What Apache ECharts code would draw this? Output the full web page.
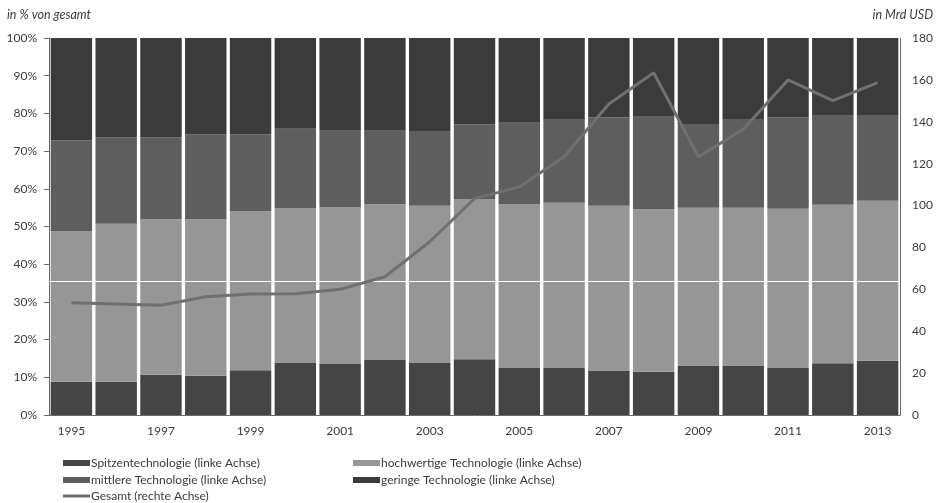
<!DOCTYPE html>
<html>
<head>
<meta charset="utf-8">
<script src="https://cdn.jsdelivr.net/npm/echarts@6/dist/echarts.min.js"></script>
<style>
  html, body { margin: 0; padding: 0; background: #fff; }
  #chart { width: 940px; height: 503px; }
</style>
</head>
<body>
<div id="chart"></div>
<script>
// Jahre
const years = ['1995','1996','1997','1998','1999','2000','2001','2002','2003','2004',
               '2005','2006','2007','2008','2009','2010','2011','2012','2013'];

// Anteile in % von gesamt (linke Achse)
const spitzen    = [8.8, 8.8, 10.7, 10.4, 11.9, 13.8, 13.5, 14.6, 13.8, 14.8, 12.5, 12.5, 11.8, 11.5, 13.1, 13.1, 12.5, 13.7, 14.4];
const hochwertig = [40.0, 41.9, 41.2, 41.5, 42.2, 41.1, 41.7, 41.3, 41.7, 42.5, 43.5, 43.8, 43.7, 43.1, 41.9, 41.9, 42.2, 42.1, 42.4];
const mittlere   = [24.1, 23.0, 21.8, 22.6, 20.4, 21.0, 20.4, 19.7, 19.8, 19.8, 21.5, 22.0, 23.4, 24.5, 22.2, 23.5, 24.3, 23.8, 22.8];
const geringe    = [27.1, 26.3, 26.3, 25.5, 25.5, 24.1, 24.4, 24.4, 24.7, 22.9, 22.5, 21.7, 21.1, 20.9, 22.8, 21.5, 21.0, 20.4, 20.4];

// Gesamt in Mrd USD (rechte Achse)
const gesamt = [53.6, 53.0, 52.4, 56.5, 57.8, 57.9, 60.0, 66.0, 82.7, 103.3,
                108.9, 123.3, 148.5, 163.4, 123.3, 136.4, 160.0, 150.1, 158.7];

// Hilfslinie (linke Achse, in %)
const hilfslinie = [35.5];

const names = {
  spitzen: 'Spitzentechnologie (linke Achse)',
  hochwertig: 'hochwertige Technologie (linke Achse)',
  mittlere: 'mittlere Technologie (linke Achse)',
  geringe: 'geringe Technologie (linke Achse)',
  gesamt: 'Gesamt (rechte Achse)'
};

const FONT = 'Lato, "Open Sans", sans-serif';
const TXT = '#3a3a3a';
const LINE_COLOR = '#707070';

const chart = echarts.init(document.getElementById('chart'), null, { renderer: 'canvas' });

function barSeries(name, data, color, extra) {
  return Object.assign({
    name: name,
    type: 'bar',
    stack: 'anteil',
    yAxisIndex: 0,
    data: data,
    barCategoryGap: '7.5%',
    itemStyle: { color: color },
    emphasis: { disabled: true },
    animation: false
  }, extra || {});
}

function legendItem(name, left, top, iconHeight) {
  return {
    data: [name],
    left: left,
    top: top,
    orient: 'horizontal',
    icon: 'rect',
    itemWidth: 27,
    itemHeight: iconHeight,
    padding: 0,
    selectedMode: false,
    textStyle: { fontFamily: FONT, fontSize: 12, color: TXT, padding: [0, 0, 0, -4] }
  };
}

chart.setOption({
  backgroundColor: '#ffffff',
  animation: false,
  title: [
    { text: 'in % von gesamt', left: 7, top: 8, padding: 0,
      textStyle: { fontFamily: FONT, fontSize: 12.5, fontStyle: 'italic', fontWeight: 'normal', color: TXT } },
    { text: 'in Mrd USD', right: 7, top: 8, padding: 0,
      textStyle: { fontFamily: FONT, fontSize: 12.5, fontStyle: 'italic', fontWeight: 'normal', color: TXT } }
  ],
  legend: [
    legendItem(names.spitzen, 63, 457, 6),
    legendItem(names.hochwertig, 353, 457, 6),
    legendItem(names.mittlere, 63, 474, 6),
    legendItem(names.geringe, 353, 474, 6),
    legendItem(names.gesamt, 63, 490, 3)
  ],
  grid: { left: 49, right: 40, top: 38, bottom: 88, containLabel: false },
  xAxis: {
    type: 'category',
    data: years,
    axisLine: { lineStyle: { color: '#6a6a6a', width: 1 } },
    axisTick: { show: false },
    axisLabel: { interval: 1, fontFamily: FONT, fontSize: 12, color: TXT, margin: 10 }
  },
  yAxis: [
    {
      type: 'value', min: 0, max: 100, interval: 10,
      axisLine: { show: true, lineStyle: { color: '#6a6a6a' } },
      axisTick: { show: true, length: 5, inside: false, lineStyle: { color: '#6a6a6a' } },
      axisLabel: { formatter: '{value}%', fontFamily: FONT, fontSize: 12, color: TXT, margin: 12 },
      splitLine: { show: false }
    },
    {
      type: 'value', min: 0, max: 180, interval: 20,
      axisLine: { show: true, lineStyle: { color: '#6a6a6a' } },
      axisTick: { show: false },
      axisLabel: { fontFamily: FONT, fontSize: 12, color: TXT, margin: 12 },
      splitLine: { show: false }
    }
  ],
  series: [
    barSeries(names.spitzen, spitzen, '#454545'),
    barSeries(names.hochwertig, hochwertig, '#969696', {
      markLine: {
        silent: true,
        symbol: 'none',
        label: { show: false },
        lineStyle: { color: '#ffffff', width: 1, type: 'solid' },
        data: hilfslinie.map(v => ({ yAxis: v }))
      }
    }),
    barSeries(names.mittlere, mittlere, '#5e5e5e'),
    barSeries(names.geringe, geringe, '#3b3b3b'),
    {
      name: names.gesamt,
      type: 'line',
      yAxisIndex: 1,
      data: gesamt,
      symbol: 'none',
      smooth: false,
      lineStyle: { color: LINE_COLOR, width: 3 },
      itemStyle: { color: LINE_COLOR },
      z: 5,
      animation: false
    }
  ]
});
</script>
</body>
</html>
